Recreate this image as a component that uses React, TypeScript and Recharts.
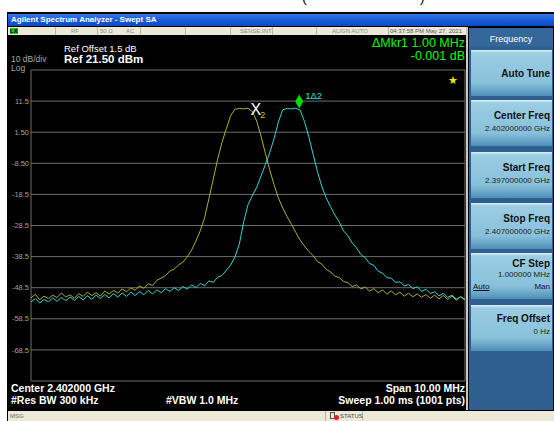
import React from 'react'
import { LineChart, Line, XAxis, YAxis, CartesianGrid, ReferenceDot } from 'recharts'

const FONT = '"Liberation Sans", Arial, sans-serif'

// sweep: 2.397 GHz .. 2.407 GHz, values read every 0.1 MHz
const freqStartMHz = 2397
const freqStepMHz = 0.1

const trace2Yellow = [
  -51.8, -50.6, -52.4, -51.2, -52.0, -50.9, -51.7, -50.2, -51.5, -50.8,
  -51.9, -50.4, -51.3, -49.9, -51.0, -50.1, -51.2, -49.6, -50.5, -49.4,
  -50.2, -48.9, -49.8, -48.6, -49.3, -47.9, -48.7, -47.2, -47.8, -46.1,
  -45.4, -44.6, -43.1, -42.5, -41.2, -40.3, -38.6, -36.4, -33.5, -30.2,
  -26.0, -19.8, -13.6, -7.2, -1.8, 2.6, 6.8, 8.9, 9.1, 9.0,
  9.2, 8.2, 5.1, 0.2, -5.3, -10.6, -15.4, -19.6, -22.9, -25.6,
  -28.1, -30.7, -33.2, -35.1, -36.8, -38.2, -40.1, -40.9, -42.6, -43.4,
  -44.8, -45.2, -46.5, -46.9, -48.1, -47.6, -48.9, -48.3, -49.6, -48.8,
  -50.1, -49.2, -50.6, -49.5, -50.8, -49.9, -51.2, -50.3, -51.4, -50.5,
  -51.6, -50.7, -51.9, -50.9, -52.1, -51.0, -52.3, -51.2, -52.5, -51.4,
  -52.2,
]

const trace1Cyan = [
  -53.1, -52.0, -53.4, -52.3, -53.0, -51.8, -52.9, -51.6, -52.7, -51.5,
  -52.6, -51.3, -52.4, -51.1, -52.2, -50.9, -52.0, -50.7, -51.8, -50.4,
  -51.5, -50.2, -51.3, -49.9, -51.0, -49.7, -50.8, -49.4, -50.5, -49.2,
  -50.1, -48.8, -49.7, -48.5, -49.4, -48.1, -49.0, -47.6, -48.5, -47.1,
  -47.9, -46.3, -46.8, -45.1, -44.6, -42.9, -41.2, -38.6, -34.5, -27.4,
  -21.8, -18.9, -16.2, -12.6, -8.9, -5.1, -0.6, 4.8, 8.7, 9.1,
  9.0, 9.2, 8.6, 5.0, 0.1, -5.6, -11.2, -15.9, -19.6, -22.4,
  -25.1, -27.3, -30.2, -31.8, -34.1, -35.7, -37.8, -38.9, -40.7, -41.3,
  -43.2, -43.8, -45.3, -45.4, -46.8, -46.6, -47.9, -47.5, -48.8, -48.2,
  -49.7, -49.0, -50.4, -49.8, -51.1, -50.3, -51.6, -50.9, -52.2, -51.4,
  -52.5,
]

const xTicks = [2397, 2398, 2399, 2400, 2401, 2402, 2403, 2404, 2405, 2406, 2407]
const yTicks = [21.5, 11.5, 1.5, -8.5, -18.5, -28.5, -38.5, -48.5, -58.5, -68.5, -78.5]
const yTickLabels = ['', '11.5', '1.50', '-8.50', '-18.5', '-28.5', '-38.5', '-48.5', '-58.5', '-68.5', '']

const marker1 = { f: 2403.18, level: 8.8 }
const marker2 = { f: 2402.18, level: 8.8 }

// softkey title offset and value offset inside each key
const softkeys = [
  { top: 50, title: 'Auto Tune', titleAt: 19, lines: [] as string[], linesAt: 0 },
  { top: 100, title: 'Center Freq', titleAt: 11, lines: ['2.402000000 GHz'], linesAt: 25 },
  { top: 152, title: 'Start Freq', titleAt: 11, lines: ['2.397000000 GHz'], linesAt: 25 },
  { top: 203, title: 'Stop Freq', titleAt: 11, lines: ['2.407000000 GHz'], linesAt: 25 },
  { top: 253, title: 'CF Step', titleAt: 6, lines: ['1.000000 MHz'], linesAt: 18 },
  { top: 305, title: 'Freq Offset', titleAt: 9, lines: ['0 Hz'], linesAt: 23 },
]

const tableData = trace2Yellow.map((v, i) => ({
  f: +(freqStartMHz + i * freqStepMHz).toFixed(1),
  yellow: v,
  cyan: trace1Cyan[i],
}))

const txt = (left: number, top: number, size: number, color: string, extra: React.CSSProperties = {}) =>
  ({ position: 'absolute', left, top, fontSize: size, color, fontFamily: FONT, whiteSpace: 'nowrap', lineHeight: 1, ...extra }) as React.CSSProperties

function MarkerX(props: any) {
  const { cx, cy } = props
  return (
    <g>
      <text x={cx} y={cy + 6} textAnchor="middle" fill="#ffffff" fontSize={16} fontFamily={FONT}>X</text>
      <text x={cx + 7} y={cy + 9} textAnchor="middle" fill="#c8c830" fontSize={9} fontFamily={FONT}>2</text>
    </g>
  )
}

function MarkerDiamond(props: any) {
  const { cx, cy } = props
  const c = cy - 8
  return (
    <g>
      <path d={`M${cx},${c - 7} L${cx + 4},${c} L${cx},${c + 7} L${cx - 4},${c} Z`} fill="#00e000" />
      <text x={cx + 6} y={c - 2} fill="#30e0e0" fontSize={9.5} fontFamily={FONT}>1Δ2</text>
    </g>
  )
}

export default function App() {
  return (
    <div style={{ position: 'absolute', left: 0, top: 0, width: 554, height: 421, background: '#ffffff', overflow: 'hidden', fontFamily: FONT }}>
      {/* caption above the screenshot, mostly outside the picture */}
      <div style={txt(302, -10, 14, '#000')}>(</div>
      <div style={txt(420, -10, 14, '#000')}>)</div>

      {/* window frame */}
      <div style={{ position: 'absolute', left: 7, top: 12, width: 547, height: 409, background: '#000' }} />
      <div style={{ position: 'absolute', left: 8, top: 14, width: 546, height: 12, background: 'linear-gradient(#3478ea, #1556d4 60%, #0c4cc4)' }} />
      <div style={txt(11, 16, 8, '#fff', { fontWeight: 'bold' })}>Agilent Spectrum Analyzer - Swept SA</div>

      {/* status row */}
      <div style={{ position: 'absolute', left: 8, top: 27, width: 460, height: 8, background: '#ece9d8' }} />
      <div style={{ position: 'absolute', left: 10, top: 28, width: 8, height: 6, background: '#22c022' }} />
      <div style={txt(10, 28, 6, '#000', { fontWeight: 'bold' })}>LX</div>
      {[55, 97, 140, 185, 230, 272, 316, 388].map((x) => (
        <div key={x} style={{ position: 'absolute', left: x, top: 27, width: 1, height: 8, background: '#b8b4a4' }} />
      ))}
      <div style={txt(71, 28, 6, '#888')}>RF</div>
      <div style={txt(100, 28, 6, '#888')}>50 Ω</div>
      <div style={txt(126, 28, 6, '#888')}>AC</div>
      <div style={txt(240, 28, 6, '#888')}>SENSE:INT</div>
      <div style={txt(332, 28, 6, '#888')}>ALIGN AUTO</div>
      <div style={txt(390, 28, 6, '#555')}>04:37:58 PM May 27, 2021</div>

      {/* right soft-key panel */}
      <div style={{ position: 'absolute', left: 466, top: 27, width: 2, height: 383, background: '#c8c8c8' }} />
      <div style={{ position: 'absolute', left: 469, top: 28, width: 84, height: 382, background: '#2f5f8e' }} />
      <div style={{ position: 'absolute', left: 469, top: 28, width: 84, height: 18, background: '#35679a' }} />
      <div style={txt(469, 35, 9, '#fff', { width: 84, textAlign: 'center' })}>Frequency</div>
      {softkeys.map((k) => (
        <div key={k.title} style={{ position: 'absolute', left: 471, top: k.top, width: 81, height: 46, background: 'linear-gradient(#e4f2f8 0%, #9ccde3 6%, #88c0da 72%, #4f8fb8 100%)' }}>
          <div style={txt(0, k.titleAt, 10, '#111', { width: 79, textAlign: 'right', fontWeight: 'bold' })}>{k.title}</div>
          {k.lines.map((l, i) => (
            <div key={l} style={txt(0, k.linesAt + i * 10, 8, '#222', { width: 79, textAlign: 'right' })}>{l}</div>
          ))}
        </div>
      ))}
      <div style={txt(473, 283, 8, '#111', { textDecoration: 'underline' })}>Auto</div>
      <div style={txt(471, 283, 8, '#111', { width: 79, textAlign: 'right' })}>Man</div>

      {/* header texts */}
      <div style={txt(11, 55, 8.5, '#a8a8a8')}>10 dB/div</div>
      <div style={txt(11, 64, 8.5, '#a8a8a8')}>Log</div>
      <div style={txt(64, 44, 9.5, '#fff')}>Ref Offset 1.5 dB</div>
      <div style={txt(64, 54, 11.5, '#fff', { fontWeight: 'bold' })}>Ref 21.50 dBm</div>
      <div style={txt(300, 37, 12.5, '#00ff00', { width: 165, textAlign: 'right' })}>ΔMkr1 1.00 MHz</div>
      <div style={txt(300, 50, 12.5, '#00ff00', { width: 165, textAlign: 'right' })}>-0.001 dB</div>

      <div style={{ position: 'absolute', left: 0, top: 0 }}>
        <LineChart width={554} height={421} data={tableData} margin={{ top: 70, right: 89, bottom: 40, left: 7 }}>
          <CartesianGrid stroke="#6e6e6e" strokeWidth={1} />
          <XAxis dataKey="f" type="number" domain={[2397, 2407]} ticks={xTicks} tick={false} axisLine={false} tickLine={false} height={0} />
          <YAxis
            type="number"
            domain={[-78.5, 21.5]}
            ticks={yTicks}
            interval={0}
            width={24}
            tickSize={0}
            tickMargin={2}
            axisLine={false}
            tickLine={false}
            tick={{ fill: '#a0a0a0', fontSize: 7.5, fontFamily: FONT }}
            tickFormatter={(v: number) => yTickLabels[yTicks.indexOf(v)] ?? ''}
          />
          <Line type="linear" dataKey="yellow" stroke="#b0b02c" strokeWidth={1} dot={false} isAnimationActive={false} />
          <Line type="linear" dataKey="cyan" stroke="#2ed8d8" strokeWidth={1} dot={false} isAnimationActive={false} />
          <ReferenceDot x={marker2.f} y={marker2.level} ifOverflow="visible" shape={MarkerX} />
          <ReferenceDot x={marker1.f} y={marker1.level} ifOverflow="visible" shape={MarkerDiamond} />
        </LineChart>
      </div>
      <div style={txt(448, 75, 11, '#f0e000')}>★</div>

      {/* footer texts */}
      <div style={txt(11, 383, 10.5, '#fff', { fontWeight: 'bold' })}>Center 2.402000 GHz</div>
      <div style={txt(300, 383, 10.5, '#fff', { fontWeight: 'bold', width: 165, textAlign: 'right' })}>Span 10.00 MHz</div>
      <div style={txt(11, 395, 10.5, '#fff', { fontWeight: 'bold' })}>#Res BW 300 kHz</div>
      <div style={txt(166, 395, 10.5, '#fff', { fontWeight: 'bold' })}>#VBW 1.0 MHz</div>
      <div style={txt(250, 395, 10.5, '#fff', { fontWeight: 'bold', width: 215, textAlign: 'right' })}>Sweep  1.00 ms (1001 pts)</div>

      {/* bottom message bar */}
      <div style={{ position: 'absolute', left: 8, top: 411, width: 546, height: 10, background: '#ece9d8' }} />
      <div style={{ position: 'absolute', left: 325, top: 411, width: 1, height: 10, background: '#b8b4a4' }} />
      <div style={{ position: 'absolute', left: 362, top: 411, width: 1, height: 10, background: '#b8b4a4' }} />
      <div style={txt(10, 413, 6, '#666')}>MSG</div>
      <div style={{ position: 'absolute', left: 330, top: 412, width: 5, height: 7, border: '1px solid #555', boxSizing: 'border-box' }} />
      <div style={{ position: 'absolute', left: 334, top: 415, width: 5, height: 5, borderRadius: 3, background: '#e02020' }} />
      <div style={txt(340, 413, 6, '#444')}>STATUS</div>
    </div>
  )
}
